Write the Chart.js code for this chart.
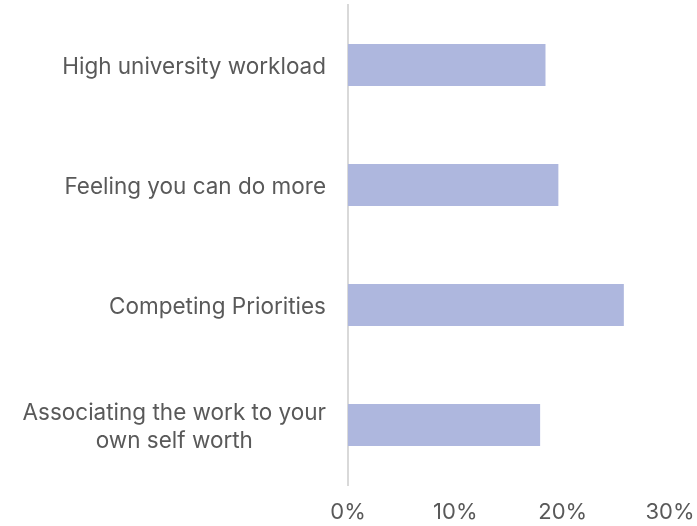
<!DOCTYPE html>
<html>
<head>
<meta charset="utf-8">
<script src="https://cdn.jsdelivr.net/npm/chart.js@4"></script>
<style>
  html, body { margin: 0; padding: 0; background: #fff; }
  #wrap { width: 697px; height: 526px; position: relative; }
</style>
</head>
<body>
<div id="wrap"><canvas id="chart"></canvas></div>
<script>
// stress factors, share of respondents (%)
const categories = [
  "High university workload",
  "Feeling you can do more",
  "Competing Priorities",
  ["Associating the work to your", "own self worth"],
];
const shares = [18.4, 19.6, 25.7, 17.9];
const xTicks = [0, 10, 20, 30];

const FONT = "Inter, 'Liberation Sans', sans-serif";
const TEXT = "#595959";
const LABEL_GAP = 22;
const AXIS_LEFT = 348;

// y labels: right-aligned block, multi-line labels centred inside the block
const centredLabels = {
  id: "centredLabels",
  afterDraw(chart) {
    const y = chart.scales.y;
    const ctx = chart.ctx;
    ctx.save();
    ctx.font = "22.5px " + FONT;
    ctx.fillStyle = TEXT;
    ctx.textAlign = "center";
    ctx.textBaseline = "middle";
    const lineH = 28;
    categories.forEach((lab, i) => {
      const lines = Array.isArray(lab) ? lab : [lab];
      const w = Math.max(...lines.map((l) => ctx.measureText(l).width));
      const cx = chart.chartArea.left - LABEL_GAP - w / 2;
      const cy = y.getPixelForValue(i) + 2;
      lines.forEach((l, k) => {
        ctx.fillText(l, cx, cy + (k - (lines.length - 1) / 2) * lineH);
      });
    });
    ctx.restore();
  },
};

new Chart(document.getElementById("chart"), {
  type: "bar",
  data: {
    labels: categories,
    datasets: [{
      data: shares,
      backgroundColor: "#aeb7de",
      borderWidth: 0,
      barPercentage: 0.7,
      categoryPercentage: 0.5,
    }],
  },
  options: {
    indexAxis: "y",
    responsive: true,
    maintainAspectRatio: false,
    animation: false,
    layout: { padding: { top: 5, bottom: 0, right: 0, left: 0 } },
    plugins: { legend: { display: false }, tooltip: { enabled: false } },
    scales: {
      x: {
        min: 0,
        max: 30,
        afterBuildTicks: (s) => { s.ticks = xTicks.map((v) => ({ value: v })); },
        afterFit: (s) => { s.height = 41; s.paddingRight = 27; },
        grid: { display: false, drawTicks: false },
        border: { display: false },
        ticks: {
          color: TEXT,
          padding: 14,
          font: { family: FONT, size: 22 },
          callback: (v) => v + "%",
          maxRotation: 0,
        },
      },
      y: {
        afterFit: (s) => { s.width = AXIS_LEFT; },
        grid: { display: false, drawTicks: false },
        border: { display: true, color: "#d9d9d9", width: 2 },
        ticks: { display: false },
      },
    },
  },
  plugins: [centredLabels],
});
</script>
</body>
</html>
